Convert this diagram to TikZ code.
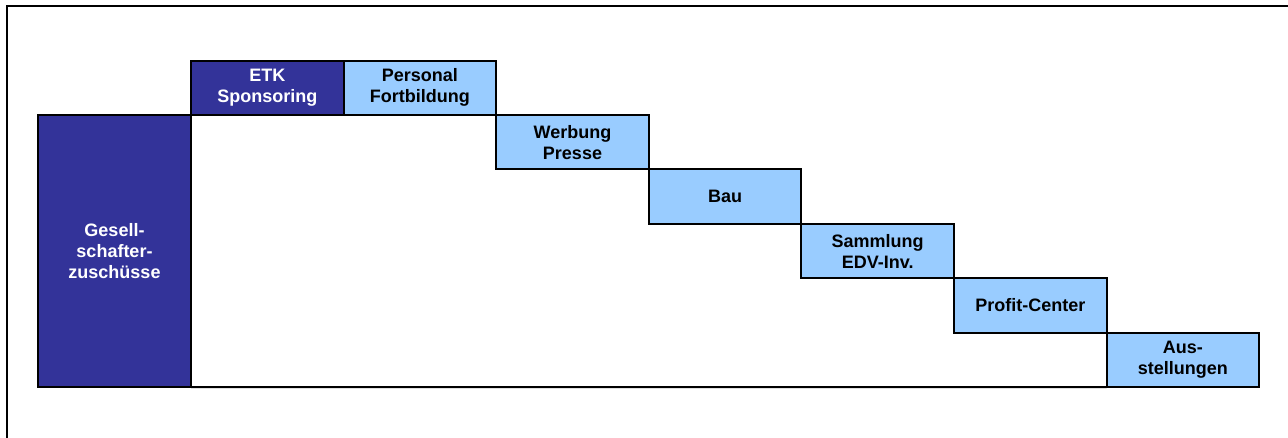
\documentclass[tikz,border=0pt]{standalone}
\usepackage{fontspec}
\setmainfont{Liberation Sans}
\usepackage{xcolor}
\usetikzlibrary{positioning}
\definecolor{navyBlue}{RGB}{51,51,153}
\definecolor{skyBlue}{RGB}{153,204,255}

\tikzset{
  budget/.style={
    draw=black,
    line width=2pt,
    outer sep=0pt,
    inner sep=0pt,
    align=center,
    font=\bfseries\fontsize{18}{21}\selectfont,
    minimum width=152.6pt,
    minimum height=54.4pt,
  },
  ownBox/.style={budget, fill=navyBlue, text=white},
  costBox/.style={budget, fill=skyBlue, text=black},
}

\begin{document}
\begin{tikzpicture}[x=1pt, y=-1pt]
  \useasboundingbox (0,0) rectangle (1288,438);

  % frame, only left and top edge are visible
  \coordinate (frameBottom) at (7,440);
  \coordinate (frameRight) at (1290,6);
  \draw[line width=2pt] (frameBottom) |- (frameRight);

  \node[ownBox, minimum width=153pt, minimum height=272pt, anchor=north west]
    (gesell) at (38,115) {Gesell-\\schafter-\\zuschüsse};
  \node[ownBox, above right=0pt of gesell.north east] (etk) {ETK\\Sponsoring};
  \node[costBox, right=0pt of etk] (personal) {Personal\\Fortbildung};

  \foreach \name/\lbl [remember=\name as \prev (initially personal)] in
    {werbung/{Werbung\\Presse}, bau/Bau, sammlung/{Sammlung\\EDV-Inv.},
     profit/Profit-Center, ausstellungen/{Aus-\\stellungen}}
  {
    \node[costBox, below right=0pt of \prev] (\name) {\lbl};
  }

  \draw[line width=2pt] (gesell.south east) -- (ausstellungen.south west);
\end{tikzpicture}
\end{document}
